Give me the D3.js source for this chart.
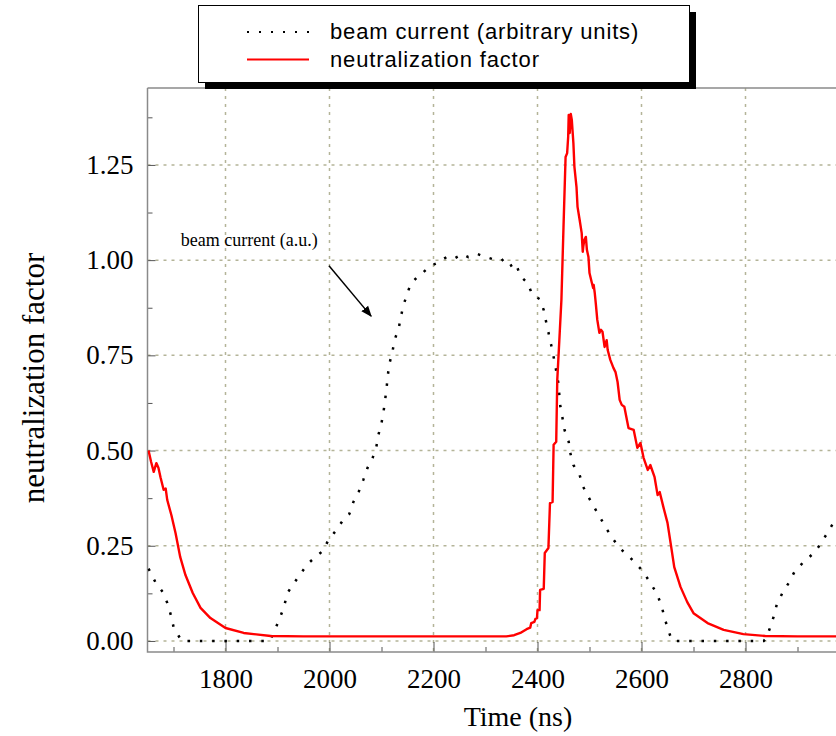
<!DOCTYPE html>
<html><head><meta charset="utf-8">
<script src="https://cdn.jsdelivr.net/npm/d3@7"></script>
<style>body{margin:0;background:#fff}svg{display:block}</style>
</head><body><svg id="c" width="836" height="736"></svg>
<script>
// ---- data ----
const beamTime = [1652,1665,1679,1688,1696,1700,1710,1716,1885,1892,1902,1912,1919,1931,1944,1958,1973,1987,1998,2012,2025,2038,2046,2056,2065,2073,2083,2090,2094,2100,2104,2107,2110,2112,2115,2121,2125,2133,2137,2142,2148,2156,2169,2181,2194,2208,2225,2238,2256,2267,2285,2296,2313,2331,2344,2358,2367,2381,2390,2404,2412,2417,2423,2429,2435,2440,2442,2444,2448,2452,2460,2463,2469,2481,2487,2498,2510,2521,2533,2544,2558,2575,2590,2604,2617,2629,2638,2644,2650,2658,2662,2835,2840,2846,2854,2860,2871,2883,2894,2910,2921,2935,2948,2960,2971,2980];
const beamCurrent = [0.19,0.155,0.129,0.10,0.063,0.037,0.013,0,0,0.02,0.052,0.087,0.126,0.15,0.176,0.202,0.221,0.236,0.265,0.289,0.315,0.333,0.365,0.391,0.423,0.454,0.481,0.509,0.541,0.572,0.603,0.633,0.667,0.696,0.727,0.759,0.79,0.82,0.85,0.88,0.906,0.937,0.956,0.969,0.985,0.993,1.008,1.003,1.016,1.008,1.016,1.01,1.003,1.003,0.982,0.993,0.958,0.94,0.909,0.898,0.869,0.835,0.798,0.76,0.717,0.678,0.646,0.615,0.586,0.554,0.523,0.494,0.462,0.436,0.407,0.378,0.349,0.323,0.294,0.27,0.244,0.223,0.202,0.181,0.152,0.126,0.095,0.063,0.034,0.003,0,0,0.008,0.03,0.063,0.095,0.126,0.152,0.181,0.205,0.218,0.236,0.263,0.289,0.315,0.335];

const nfTime = [1652,1657,1662,1667,1671,1675,1681,1685,1688,1696,1704,1713,1723,1737,1752,1771,1800,1835,1887,1950,2340,2355,2367,2379,2386,2388,2394,2396,2399,2400,2404,2405,2412,2414,2421,2424,2429,2431,2436,2438,2442,2446,2450,2454,2457,2459,2460,2462,2464,2466,2469,2471,2475,2477,2481,2485,2487,2488,2490,2493,2495,2498,2500,2504,2507,2508,2510,2512,2515,2519,2522,2525,2529,2533,2535,2540,2546,2550,2554,2558,2562,2567,2575,2585,2592,2598,2604,2612,2617,2625,2631,2635,2642,2650,2656,2663,2675,2688,2700,2727,2758,2796,2838,2900,3000];
const neutralization = [0.50,0.47,0.444,0.467,0.455,0.43,0.397,0.40,0.37,0.33,0.283,0.22,0.173,0.126,0.087,0.06,0.034,0.021,0.013,0.012,0.012,0.015,0.021,0.031,0.035,0.047,0.05,0.058,0.06,0.081,0.081,0.134,0.137,0.231,0.244,0.362,0.365,0.515,0.523,0.685,0.79,0.896,1.087,1.271,1.281,1.324,1.381,1.334,1.384,1.368,1.308,1.245,1.192,1.14,1.106,1.071,1.022,1.035,1.053,1.061,1.027,1.008,0.966,0.943,0.927,0.935,0.915,0.888,0.843,0.809,0.817,0.812,0.772,0.79,0.764,0.738,0.717,0.706,0.68,0.633,0.62,0.615,0.559,0.554,0.507,0.52,0.481,0.449,0.462,0.431,0.383,0.391,0.352,0.31,0.257,0.194,0.142,0.102,0.073,0.047,0.029,0.018,0.013,0.012,0.012];

const xTickValues = [1800,2000,2200,2400,2600,2800];
const xMinorValues = [1700,1900,2100,2300,2500,2700,2900];
const yTickValues = [0,0.25,0.5,0.75,1.0,1.25];
const yMinorValues = [0.125,0.375,0.625,0.875,1.125,1.375];
const legendLabels = ["beam current (arbitrary units)","neutralization factor"];
const annotationText = "beam current (a.u.)";
const annotationPos = [1714, 1.037];
const arrowFrom = [1999, 0.985];
const arrowTo = [2080, 0.853];

// ---- layout ----
const svg = d3.select("#c");
const L = 147.5, R = 849.5, T = 88, B = 652;
const x = d3.scaleLinear().domain([1650, 3000]).range([L, R]);
const y = d3.scaleLinear().domain([-0.029, 1.452]).range([B, T]);
const serif = "'Liberation Serif','Times New Roman',serif";
const sans = "'Liberation Sans',Arial,sans-serif";
const gridColor = "#b4b498";

svg.append("defs").append("clipPath").attr("id","clip")
  .append("rect").attr("x",L).attr("y",T).attr("width",R-L).attr("height",B-T);
svg.select("defs").append("marker").attr("id","arr")
  .attr("viewBox","0 0 10 10").attr("refX",9).attr("refY",5)
  .attr("markerWidth",11).attr("markerHeight",11).attr("markerUnits","userSpaceOnUse")
  .attr("orient","auto")
  .append("path").attr("d","M0,1 L10,5 L0,9 Z").attr("fill","#000");

// grid
const grid = svg.append("g");
grid.selectAll(".gy").data(yTickValues).join("line")
  .attr("x1",L).attr("x2",R).attr("y1",d=>y(d)).attr("y2",d=>y(d))
  .attr("stroke",gridColor).attr("stroke-width",1.5).attr("stroke-dasharray","3,5");
grid.selectAll(".gx").data(xTickValues).join("line")
  .attr("x1",d=>x(d)).attr("x2",d=>x(d)).attr("y1",T).attr("y2",B)
  .attr("stroke",gridColor).attr("stroke-width",1.5).attr("stroke-dasharray","3,5");

// axes
const yAxis = d3.axisLeft(y).tickValues(yTickValues).tickSize(-8).tickPadding(14).tickFormat(d3.format(".2f"));
const gy = svg.append("g").attr("transform",`translate(${L},0)`).call(yAxis);
const yAxisMinor = d3.axisLeft(y).tickValues(yMinorValues).tickSize(-5).tickFormat("");
const gym = svg.append("g").attr("transform",`translate(${L},0)`).call(yAxisMinor);
const xAxis = d3.axisBottom(x).tickValues(xTickValues).tickSize(-10).tickPadding(17).tickFormat(d3.format("d"));
const gx = svg.append("g").attr("transform",`translate(0,${B})`).call(xAxis);
const xAxisMinor = d3.axisBottom(x).tickValues(xMinorValues).tickSize(-5).tickFormat("");
const gxm = svg.append("g").attr("transform",`translate(0,${B})`).call(xAxisMinor);
[gy,gym,gx,gxm].forEach(g=>{
  g.select(".domain").remove();
  g.selectAll(".tick line").attr("stroke","#555").attr("stroke-width",1);
  g.selectAll("text").attr("font-family",serif).attr("font-size",27).attr("fill","#000");
});
gx.selectAll("text").attr("dy","0.71em");

// frame
svg.append("path").attr("d",`M${L},${T} H${R} M${L},${T} V${B} H${R}`)
  .attr("fill","none").attr("stroke","#8a8a8a").attr("stroke-width",1.5);

// lines
const plot = svg.append("g").attr("clip-path","url(#clip)");
const beamPts = beamTime.map((t,i)=>[t,beamCurrent[i]]);
const nfPts = nfTime.map((t,i)=>[t,neutralization[i]]);
const line = d3.line().x(d=>x(d[0])).y(d=>y(d[1]));
plot.append("path").attr("d",line(beamPts)).attr("fill","none")
  .attr("stroke","#000").attr("stroke-width",2.5).attr("stroke-dasharray","2.5,9.8");
plot.append("path").attr("d",line(nfPts)).attr("fill","none")
  .attr("stroke","#ff0000").attr("stroke-width",2.4).attr("stroke-linejoin","round");

// annotation
svg.append("text").attr("x",x(annotationPos[0])).attr("y",y(annotationPos[1]))
  .attr("font-family",serif).attr("font-size",18).text(annotationText);
svg.append("line").attr("x1",x(arrowFrom[0])).attr("y1",y(arrowFrom[1]))
  .attr("x2",x(arrowTo[0])).attr("y2",y(arrowTo[1]))
  .attr("stroke","#000").attr("stroke-width",1.5).attr("marker-end","url(#arr)");

// axis titles
svg.append("text").attr("x",518).attr("y",726).attr("text-anchor","middle")
  .attr("font-family",serif).attr("font-size",28).text("Time (ns)");
svg.append("text").attr("transform","translate(44,378) rotate(-90)").attr("text-anchor","middle")
  .attr("font-family",serif).attr("font-size",31).text("neutralization factor");

// legend
const lg = svg.append("g");
lg.append("rect").attr("x",205).attr("y",12).attr("width",491).attr("height",77).attr("fill","#000");
lg.append("rect").attr("x",198.5).attr("y",5.5).attr("width",491).attr("height",77)
  .attr("fill","#fff").attr("stroke","#000").attr("stroke-width",1);
lg.append("line").attr("x1",247).attr("x2",310).attr("y1",32).attr("y2",32)
  .attr("stroke","#000").attr("stroke-width",2).attr("stroke-dasharray","2,10");
lg.append("line").attr("x1",247).attr("x2",309).attr("y1",59.5).attr("y2",59.5)
  .attr("stroke","#ff0000").attr("stroke-width",2);
lg.selectAll(".lt").data(legendLabels).join("text")
  .attr("x",330).attr("y",(d,i)=>39+i*27.5)
  .attr("font-family",sans).attr("font-size",22).attr("letter-spacing",0.85).text(d=>d);
</script></body></html>
